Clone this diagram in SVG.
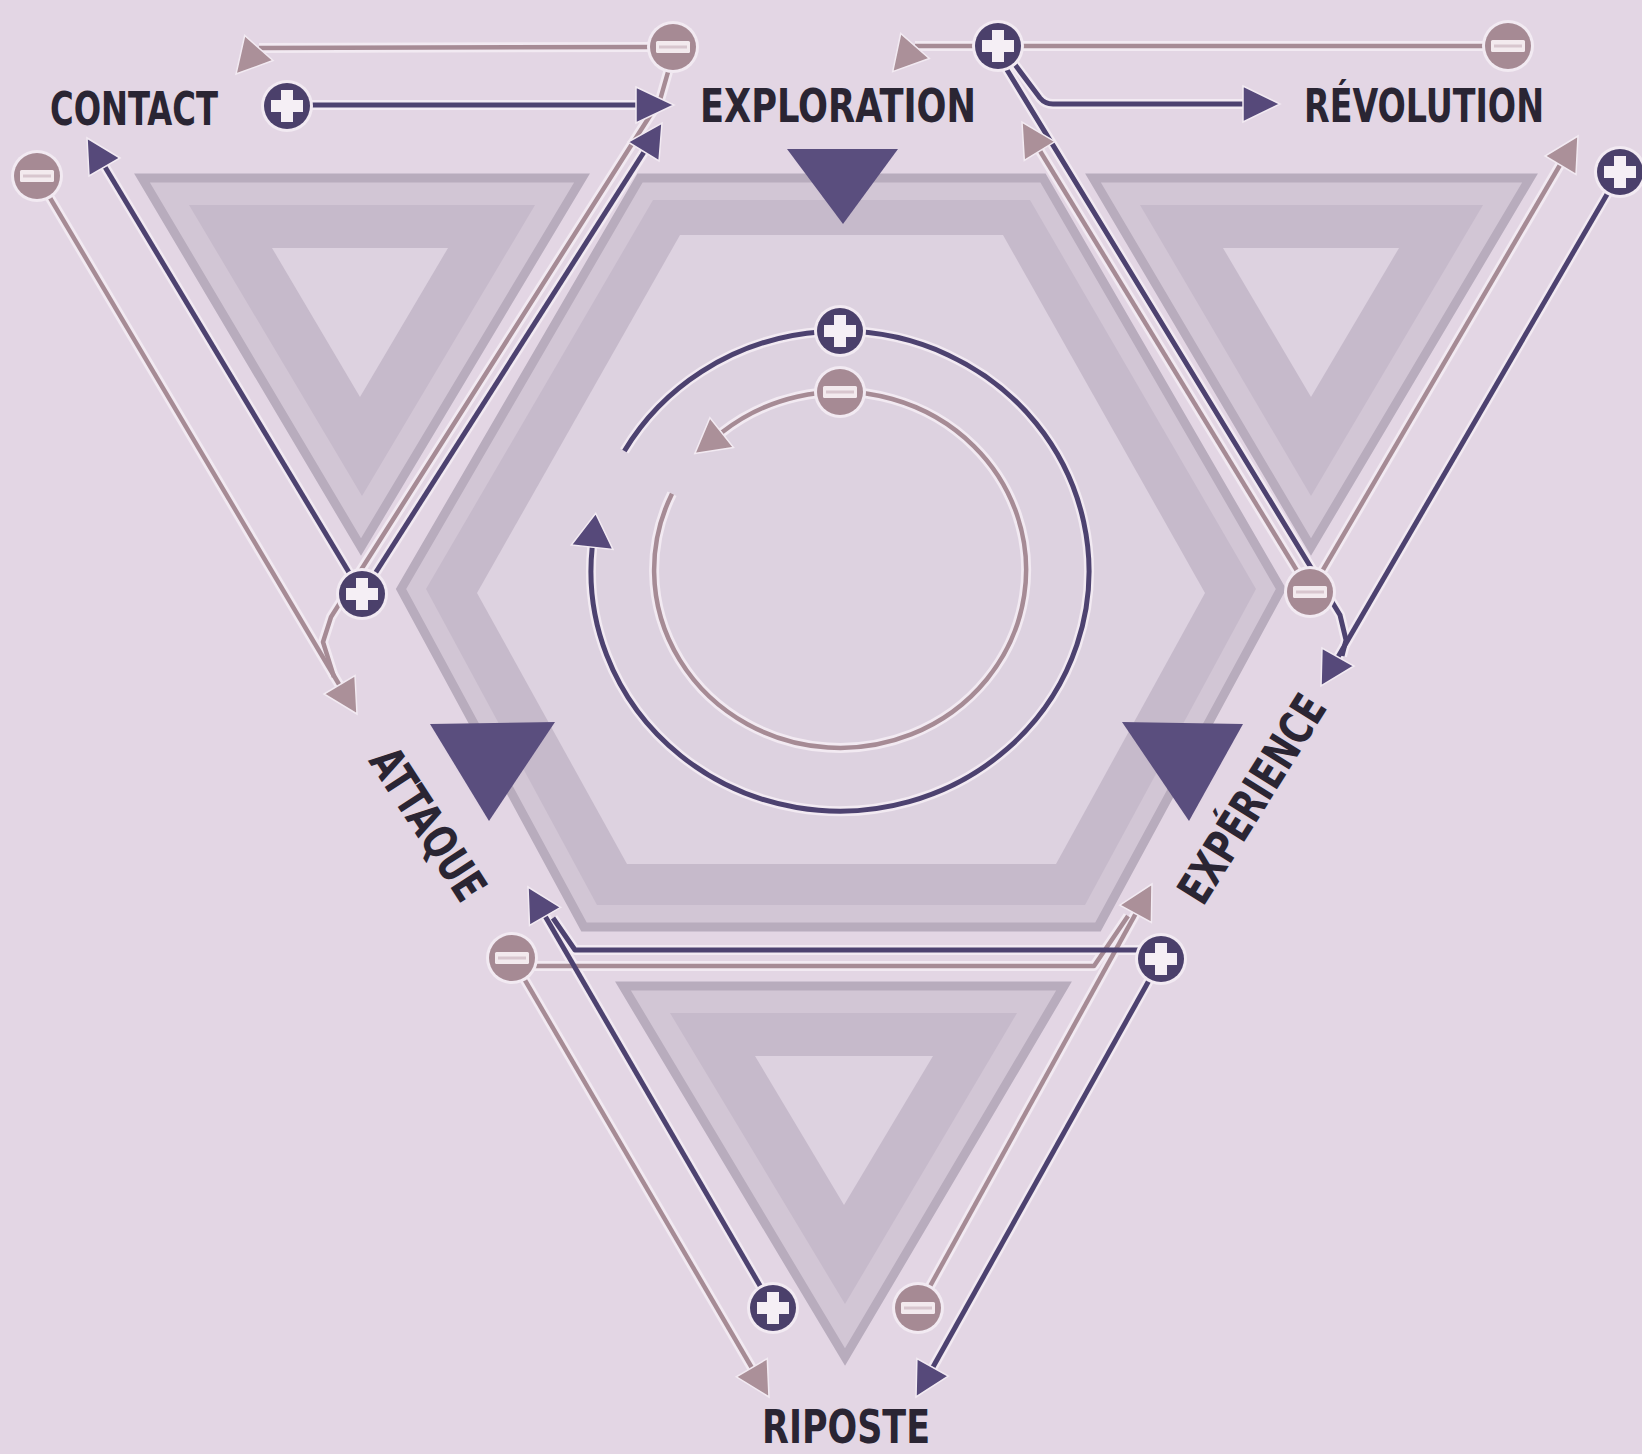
<svg xmlns="http://www.w3.org/2000/svg" xmlns:xlink="http://www.w3.org/1999/xlink" width="1642" height="1454" viewBox="0 0 1642 1454">
<defs>
<style>
.bs{fill:#d2c6d5;stroke:#b8acbd;stroke-width:9;stroke-linejoin:miter}
.bm{fill:#c6bacb}
.bi{fill:#ddd2e0}
.mk{fill:#5a4e7e}
.halo{fill:none;stroke:#f2eaf2;stroke-width:10;stroke-linejoin:round}
.dk{fill:none;stroke:#4d4270;stroke-width:5;stroke-linejoin:round}
.pk{fill:none;stroke:#a68b95;stroke-width:4.5;stroke-linejoin:round}
.ahd{fill:#56497a;stroke:#f2eaf2;stroke-width:1.5}
.ahp{fill:#ab9099;stroke:#f2eaf2;stroke-width:1.5}
.lbl{font-family:"DejaVu Sans Condensed","DejaVu Sans",sans-serif;font-weight:bold;font-size:46px;fill:#2a2533}
</style>
<g id="plusSym">
<circle r="26" fill="#f2eaf2"/>
<circle r="23" fill="#4b406b"/>
<path d="M-6,-16h12v10h10v12h-10v10h-12v-10h-10v-12h10z" fill="#f5eff5"/>
</g>
<g id="minusSym">
<circle r="26" fill="#f2eaf2"/>
<circle r="23" fill="#a68a94"/>
<rect x="-17" y="-6" width="34" height="12" rx="1.5" fill="#f3eaee"/>
<rect x="-14" y="-1.5" width="28" height="3" fill="#d8c6ce"/>
</g>
</defs>

<rect width="1642" height="1454" fill="#e3d6e4"/>

<g id="bands">
<g id="tri-top-left">
<polygon class="bs" points="142,178 582,178 361,547"/>
<polygon class="bm" points="189,205 535,205 362,496"/>
<polygon class="bi" points="272,248 448,248 360,397"/>
</g>
<g id="tri-top-right">
<polygon class="bs" points="1093,178 1530,178 1311,547"/>
<polygon class="bm" points="1140,205 1483,205 1311,496"/>
<polygon class="bi" points="1223,248 1399,248 1311,397"/>
</g>
<g id="tri-bottom">
<polygon class="bs" points="623,986 1064,986 845,1357"/>
<polygon class="bm" points="670,1013 1017,1013 845,1304"/>
<polygon class="bi" points="755,1056 933,1056 844,1205"/>
</g>
<g id="hexagon">
<polygon class="bs" points="640,178 1043,178 1281,589 1098,927 584,927 401,589"/>
<polygon class="bm" points="653,200 1030,200 1256,589 1085,905 597,905 426,589"/>
<polygon class="bi" points="680,235 1003,235 1205,593 1056,864 627,864 477,593"/>
</g>
</g>

<g id="markers">
<polygon class="mk" points="787,149 898,149 843,224"/>
<polygon class="mk" points="430,724 555,722 489,821"/>
<polygon class="mk" points="1122,722 1243,724 1189,821"/>
</g>

<g id="connectors">
<path class="halo" d="M312,105 L640,105"/>
<path class="halo" d="M650,47 L259,48"/>
<path class="halo" d="M362,594 L105,167"/>
<path class="halo" d="M362,594 L644,152"/>
<path class="halo" d="M37,176 L340,686"/>
<path class="halo" d="M668,72 L660,100 L331,617 L323,642 L334,677"/>
<path class="halo" d="M1310,592 L1040,151"/>
<path class="halo" d="M1310,592 L1560,165"/>
<path class="halo" d="M1004,65 L1340,615 L1346,640 L1342,656"/>
<path class="halo" d="M1620,172 L1338,657"/>
<path class="halo" d="M1010,58 L1040,98 Q1045,104 1053,104 L1246,104"/>
<path class="halo" d="M1490,46 L915,46"/>
<path class="halo" d="M624.4,451 A249,240 0 1 1 592.2,547.2"/>
<path class="halo" d="M672,493.7 A186,178 0 1 0 721.7,432.6"/>
<path class="halo" d="M512,966 L1094,966 L1128,916"/>
<path class="halo" d="M512,958 L752,1368"/>
<path class="halo" d="M918,1308 L1135.6,913.8"/>
<path class="halo" d="M1140,950 L575,950 L553,918"/>
<path class="halo" d="M1161,959 L933,1367"/>
<path class="halo" d="M773,1308 L545,916"/>

<path class="pk" d="M650,47 L259,48"/>
<path class="pk" d="M37,176 L340,686"/>
<path class="pk" d="M668,72 L660,100 L331,617 L323,642 L334,677"/>
<path class="pk" d="M1310,592 L1040,151"/>
<path class="pk" d="M1310,592 L1560,165"/>
<path class="pk" d="M1490,46 L915,46"/>
<path class="pk" d="M672,493.7 A186,178 0 1 0 721.7,432.6"/>
<path class="pk" d="M512,966 L1094,966 L1128,916"/>
<path class="pk" d="M512,958 L752,1368"/>
<path class="pk" d="M918,1308 L1135.6,913.8"/>

<path class="dk" d="M312,105 L640,105"/>
<path class="dk" d="M362,594 L105,167"/>
<path class="dk" d="M362,594 L644,152"/>
<path class="dk" d="M1004,65 L1340,615 L1346,640 L1342,656"/>
<path class="dk" d="M1620,172 L1338,657"/>
<path class="dk" d="M1010,58 L1040,98 Q1045,104 1053,104 L1246,104"/>
<path class="dk" d="M624.4,451 A249,240 0 1 1 592.2,547.2"/>
<path class="dk" d="M1140,950 L575,950 L553,918"/>
<path class="dk" d="M1161,959 L933,1367"/>
<path class="dk" d="M773,1308 L545,916"/>

<polygon class="ahp" points="273,60.5 236,74 244.7,35.5"/>
<polygon class="ahp" points="355,675.6 357,714 324,694"/>
<polygon class="ahp" points="1055,141.6 1022,122 1024.3,160.4"/>
<polygon class="ahp" points="1576,174.5 1578,136 1545,156"/>
<polygon class="ahp" points="929.3,58.5 892.7,71.6 900.7,33.5"/>
<polygon class="ahp" points="733.5,447.5 694.8,453.6 709.9,417.7"/>
<polygon class="ahp" points="1151.4,922.5 1152,884 1119.8,905.1"/>
<polygon class="ahp" points="767.3,1358.6 769,1397 736.3,1376.8"/>

<polygon class="ahd" points="636,87 674,105 636,123"/>
<polygon class="ahd" points="120,158 87,138 89,176"/>
<polygon class="ahd" points="659,161 662,123 628,142"/>
<polygon class="ahd" points="1354,666 1321,686 1322,648"/>
<polygon class="ahd" points="1243,86 1280,104 1243,122"/>
<polygon class="ahd" points="613,549.4 595.7,513.4 571.3,545"/>
<polygon class="ahd" points="560.7,907.3 528,887 529.5,925.5"/>
<polygon class="ahd" points="948.3,1376.1 916,1397 916.9,1358.5"/>
</g>

<g id="signs">
<g id="plus-contact"><use xlink:href="#plusSym" x="287" y="106"/></g>
<g id="minus-contact"><use xlink:href="#minusSym" x="37" y="176"/></g>
<g id="minus-exploration"><use xlink:href="#minusSym" x="673" y="47"/></g>
<g id="plus-exploration"><use xlink:href="#plusSym" x="998" y="46"/></g>
<g id="minus-revolution"><use xlink:href="#minusSym" x="1508" y="46"/></g>
<g id="plus-revolution"><use xlink:href="#plusSym" x="1620" y="172"/></g>
<g id="plus-attaque"><use xlink:href="#plusSym" x="362" y="594"/></g>
<g id="minus-experience"><use xlink:href="#minusSym" x="1310" y="592"/></g>
<g id="minus-attaque"><use xlink:href="#minusSym" x="512" y="958"/></g>
<g id="plus-experience"><use xlink:href="#plusSym" x="1161" y="959"/></g>
<g id="plus-riposte"><use xlink:href="#plusSym" x="773" y="1308"/></g>
<g id="minus-riposte"><use xlink:href="#minusSym" x="918" y="1308"/></g>
<g id="plus-cycle"><use xlink:href="#plusSym" x="840" y="331"/></g>
<g id="minus-cycle"><use xlink:href="#minusSym" x="840" y="392"/></g>
</g>

<g id="node-contact"><text class="lbl" x="50" y="125" textLength="168" lengthAdjust="spacingAndGlyphs">CONTACT</text></g>
<g id="node-exploration"><text class="lbl" x="700" y="122" textLength="276" lengthAdjust="spacingAndGlyphs">EXPLORATION</text></g>
<g id="node-revolution"><text class="lbl" x="1304" y="122" textLength="240" lengthAdjust="spacingAndGlyphs">RÉVOLUTION</text></g>
<g id="node-attaque"><text class="lbl" transform="translate(428,824) rotate(57)" x="-86" y="16" textLength="172" lengthAdjust="spacingAndGlyphs">ATTAQUE</text></g>
<g id="node-experience"><text class="lbl" transform="translate(1252,799) rotate(-58)" x="-118" y="16" textLength="236" lengthAdjust="spacingAndGlyphs">EXPÉRIENCE</text></g>
<g id="node-riposte"><text class="lbl" x="762" y="1443" textLength="168" lengthAdjust="spacingAndGlyphs">RIPOSTE</text></g>
</svg>
